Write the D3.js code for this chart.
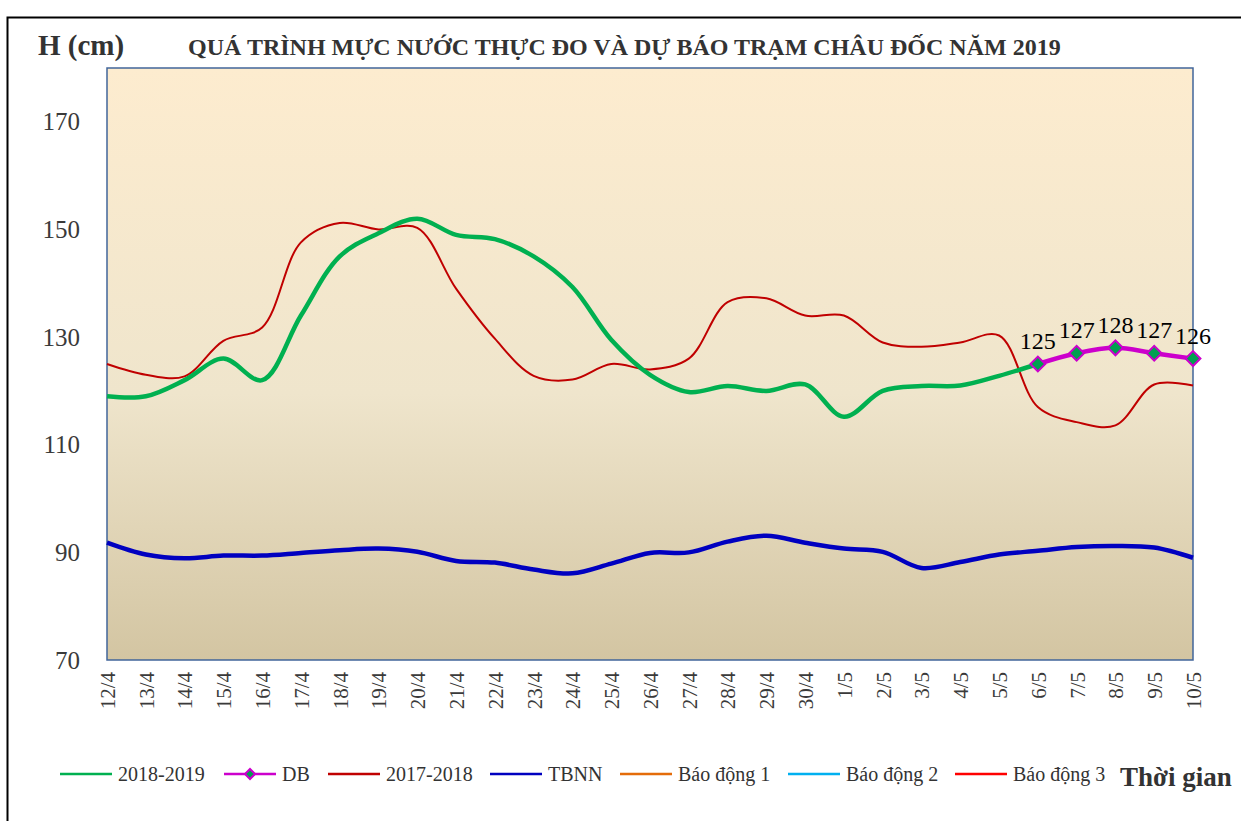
<!DOCTYPE html>
<html>
<head>
<meta charset="utf-8">
<script src="https://cdn.jsdelivr.net/npm/d3@7"></script>
<style>
  body { margin: 0; background: #fff; }
  svg text { font-family: "Liberation Serif", "Times New Roman", serif; fill: #333; }
</style>
</head>
<body>
<script>
(function(){

//chart data
var days = ["12/4","13/4","14/4","15/4","16/4","17/4","18/4","19/4","20/4","21/4",
            "22/4","23/4","24/4","25/4","26/4","27/4","28/4","29/4","30/4","1/5",
            "2/5","3/5","4/5","5/5","6/5","7/5","8/5","9/5","10/5"];

//measured 2018-2019 (12/4 -> 6/5)
var h2019 = [119, 119, 122, 126, 122, 134, 145, 149.3, 152, 149,
             148.2, 145, 139.3, 129.5, 123, 119.8, 120.9, 120, 121.2, 115.2,
             120, 120.9, 121, 122.8, 125];

//forecast DB (6/5 -> 10/5)
var dbDays = ["6/5","7/5","8/5","9/5","10/5"];
var db = [125, 127, 128, 127, 126];

//2017-2018
var h2018 = [125, 123, 122.7, 129.3, 131.8, 147.6, 151.2, 150, 150.3, 139,
             129.7, 122.8, 122.1, 125, 124, 126, 136.5, 137.2, 134, 134,
             129, 128.2, 129, 130.3, 117, 114.2, 113.6, 121.2, 121];

//TBNN (average)
var tbnn = [91.8, 89.6, 88.9, 89.4, 89.4, 89.9, 90.4, 90.7, 90.1, 88.4,
            88.1, 86.8, 86.1, 87.9, 89.9, 90, 92, 93.1, 91.8, 90.7,
            90.1, 87.1, 88.2, 89.6, 90.3, 91, 91.2, 90.9, 89];

var yTicks = [70, 90, 110, 130, 150, 170];

var legendItems = [
  {name: "2018-2019", color: "#00B050"},
  {name: "DB", color: "#CC00CC", marker: true},
  {name: "2017-2018", color: "#C00000"},
  {name: "TBNN", color: "#0000C0"},
  {name: "Báo động 1", color: "#E46C0A"},
  {name: "Báo động 2", color: "#00B0F0"},
  {name: "Báo động 3", color: "#FF0000"}
];
var legendX = [60, 224, 328, 490, 620, 788, 955];

var width = 1241, height = 821;

var svg = d3.select("body")
    .append("svg")
    .attr("width", width)
    .attr("height", height);

//gradient for plot background
var grad = svg.append("defs").append("linearGradient")
    .attr("id", "bg")
    .attr("x1", 0).attr("y1", 0).attr("x2", 0).attr("y2", 1);
grad.append("stop").attr("offset", "0%").attr("stop-color", "#FDECCF");
grad.append("stop").attr("offset", "55%").attr("stop-color", "#EFE5CC");
grad.append("stop").attr("offset", "100%").attr("stop-color", "#D3C5A2");

//outer frame
svg.append("rect")
    .attr("x", 7.5).attr("y", 17.5)
    .attr("width", 1250).attr("height", 820)
    .attr("fill", "none")
    .attr("stroke", "#000")
    .attr("stroke-width", 2);

var x = d3.scalePoint()
    .domain(days)
    .range([107, 1193]);

var y = d3.scaleLinear()
    .domain([70, 180])
    .range([660, 68]);

//plot area
svg.append("rect")
    .attr("x", 107).attr("y", 68)
    .attr("width", 1086).attr("height", 592)
    .attr("fill", "url(#bg)")
    .attr("stroke", "#41659A")
    .attr("stroke-width", 1.5);

//y axis labels
var yAxis = svg.append("g")
    .attr("transform", "translate(107,0)")
    .call(d3.axisLeft(y).tickValues(yTicks).tickSize(0).tickPadding(27));
yAxis.select(".domain").remove();
yAxis.selectAll("text")
    .attr("font-size", 25)
    .style("fill", "#3a3a3a")
    .style("font-family", "Liberation Serif");

//x axis labels, rotated
var xAxis = svg.append("g")
    .attr("transform", "translate(0,660)")
    .call(d3.axisBottom(x).tickSize(0));
xAxis.select(".domain").remove();
xAxis.selectAll("text")
    .attr("font-size", 21)
    .style("fill", "#3a3a3a")
    .style("font-family", "Liberation Serif")
    .attr("text-anchor", "end")
    .attr("dy", "0.35em")
    .attr("transform", "translate(0,12) rotate(-90)")
    .attr("x", 0).attr("y", 0);

var line = d3.line()
    .x(function(d){ return x(d[0]); })
    .y(function(d){ return y(d[1]); })
    .curve(d3.curveCatmullRom.alpha(0.5));

function pairs(keys, vals){
  return vals.map(function(v, i){ return [keys[i], v]; });
}

//series lines
svg.append("path")
    .datum(pairs(days, tbnn))
    .attr("d", line)
    .attr("fill", "none")
    .attr("stroke", "#0000C0")
    .attr("stroke-width", 4.5);

svg.append("path")
    .datum(pairs(days, h2018))
    .attr("d", line)
    .attr("fill", "none")
    .attr("stroke", "#C00000")
    .attr("stroke-width", 2);

svg.append("path")
    .datum(pairs(days, h2019))
    .attr("d", line)
    .attr("fill", "none")
    .attr("stroke", "#00B050")
    .attr("stroke-width", 4.5);

var dbData = pairs(dbDays, db);
svg.append("path")
    .datum(dbData)
    .attr("d", line)
    .attr("fill", "none")
    .attr("stroke", "#CC00CC")
    .attr("stroke-width", 4.5);

//square rotated 45 degrees = Excel diamond marker
var diamond = d3.symbol().type(d3.symbolSquare).size(110);
svg.selectAll(".dbPt")
    .data(dbData)
    .enter()
    .append("path")
    .attr("class", "dbPt")
    .attr("d", diamond)
    .attr("transform", function(d){ return "translate(" + x(d[0]) + "," + y(d[1]) + ") rotate(45)"; })
    .attr("fill", "#00A050")
    .attr("stroke", "#CC00CC")
    .attr("stroke-width", 2);

svg.selectAll(".dbLbl")
    .data(dbData)
    .enter()
    .append("text")
    .attr("class", "dbLbl")
    .attr("x", function(d){ return x(d[0]); })
    .attr("y", function(d){ return y(d[1]) - 15; })
    .attr("text-anchor", "middle")
    .attr("font-size", 24)
    .style("fill", "#000")
    .text(function(d){ return d[1]; });

//titles
svg.append("text")
    .attr("x", 38).attr("y", 55)
    .attr("font-size", 29)
    .attr("font-weight", "bold")
    .text("H (cm)");

svg.append("text")
    .attr("x", 188).attr("y", 55)
    .attr("font-size", 24)
    .attr("font-weight", "bold")
    .text("QUÁ TRÌNH MỰC NƯỚC THỰC ĐO VÀ DỰ BÁO TRẠM CHÂU ĐỐC NĂM  2019");

//legend
var leg = svg.selectAll(".leg")
    .data(legendItems)
    .enter()
    .append("g")
    .attr("class", "leg")
    .attr("transform", function(d, i){ return "translate(" + legendX[i] + ",774)"; });

leg.append("line")
    .attr("x1", 0).attr("x2", 52)
    .attr("stroke", function(d){ return d.color; })
    .attr("stroke-width", 2.5);

leg.filter(function(d){ return d.marker; })
    .append("path")
    .attr("d", d3.symbol().type(d3.symbolSquare).size(50))
    .attr("transform", "translate(26,0) rotate(45)")
    .attr("fill", "#00A050")
    .attr("stroke", "#CC00CC")
    .attr("stroke-width", 2);

leg.append("text")
    .attr("x", 58).attr("y", 7)
    .attr("font-size", 20)
    .text(function(d){ return d.name; });

svg.append("text")
    .attr("x", 1120).attr("y", 786)
    .attr("font-size", 27)
    .attr("font-weight", "bold")
    .text("Thời gian");

})();
</script>
</body>
</html>
